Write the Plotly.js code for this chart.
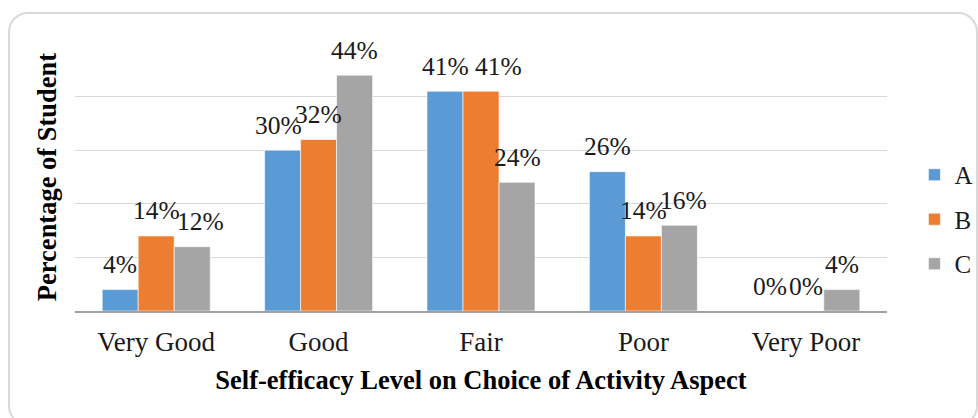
<!DOCTYPE html>
<html>
<head>
<meta charset="utf-8">
<script src="https://cdn.plot.ly/plotly-3.0.1.min.js"></script>
<style>
  html, body { margin: 0; padding: 0; background: #fff; overflow: hidden; }
  #wrap { position: relative; width: 978px; height: 418px; }
  #chart { position: absolute; left: 0; top: 0; width: 978px; height: 418px; }
  #frame { position: absolute; left: 8px; top: 12px; width: 966px; height: 410px;
           border: 2px solid #d9d9d9; border-radius: 20px; pointer-events: none; }
</style>
</head>
<body>
<div id="wrap">
  <div id="chart"></div>
  <div id="frame"></div>
</div>
<script>
const categories = ["Very Good", "Good", "Fair", "Poor", "Very Poor"];
const seriesNames = ["A", "B", "C"];
const valuesA = [4, 30, 41, 26, 0];
const valuesB = [14, 32, 41, 14, 0];
const valuesC = [12, 44, 24, 16, 4];
const colors = ["#5B9BD5", "#ED7D31", "#A5A5A5"];

const allValues = [valuesA, valuesB, valuesC];
const FONT = "'Liberation Serif', 'Times New Roman', serif";

// small horizontal nudges (px) for data labels that would collide, as the original does
const labelNudge = { "Fair|B": 17, "Very Good|C": 8, "Good|A": -4, "Poor|C": 4 };

const traces = allValues.map((vals, i) => ({
  type: "bar",
  name: seriesNames[i],
  x: categories,
  y: vals,
  legendgroup: seriesNames[i],
  marker: { color: colors[i], line: { color: "#ffffff", width: 0.6 } },
  hoverinfo: "skip"
}));

const BAR_PX = 36;
const annotations = [];
allValues.forEach((vals, i) => {
  vals.forEach((v, j) => {
    const key = categories[j] + "|" + seriesNames[i];
    annotations.push({
      x: categories[j], y: v, xref: "x", yref: "y",
      text: v + "%", showarrow: false,
      xshift: (i - 1) * BAR_PX + (labelNudge[key] || 0), yshift: 25,
      xanchor: "center", yanchor: "middle",
      font: { family: FONT, size: 25.5, color: "#1a1a1a" }
    });
  });
});

const layout = {
  width: 978, height: 418,
  margin: { l: 75, r: 91, t: 43, b: 107, autoexpand: false },
  paper_bgcolor: "rgba(0,0,0,0)",
  plot_bgcolor: "#ffffff",
  barmode: "group",
  bargap: 0.335,
  bargroupgap: 0,
  font: { family: FONT, size: 25, color: "#1a1a1a" },
  xaxis: {
    type: "category", automargin: false,
    showline: true, linecolor: "#a0a0a0", linewidth: 2,
    ticks: "", ticklabelstandoff: 6,
    tickfont: { family: FONT, size: 27, color: "#1a1a1a" },
    showgrid: false, zeroline: false,
    title: { text: "<b>Self-efficacy Level on Choice of Activity Aspect</b>",
             font: { family: FONT, size: 26.5, color: "#000" }, standoff: 14 }
  },
  yaxis: {
    range: [0, 50], dtick: 10, automargin: false,
    showticklabels: false, ticks: "",
    showgrid: true, gridcolor: "#d9d9d9", gridwidth: 1.3,
    zeroline: false, showline: false,
    title: { text: "<b>Percentage of Student</b>",
             font: { family: FONT, size: 26.5, color: "#000" }, standoff: 9 }
  },
  showlegend: true,
  legend: {
    xref: "container", yref: "container",
    x: 0.935, xanchor: "left", y: 0.475, yanchor: "middle",
    traceorder: "grouped", tracegroupgap: 9,
    font: { family: FONT, size: 25, color: "#1a1a1a" },
    bgcolor: "rgba(0,0,0,0)", itemwidth: 30
  },
  annotations: annotations
};

Plotly.newPlot("chart", traces, layout, { displayModeBar: false, staticPlot: true });
</script>
</body>
</html>
